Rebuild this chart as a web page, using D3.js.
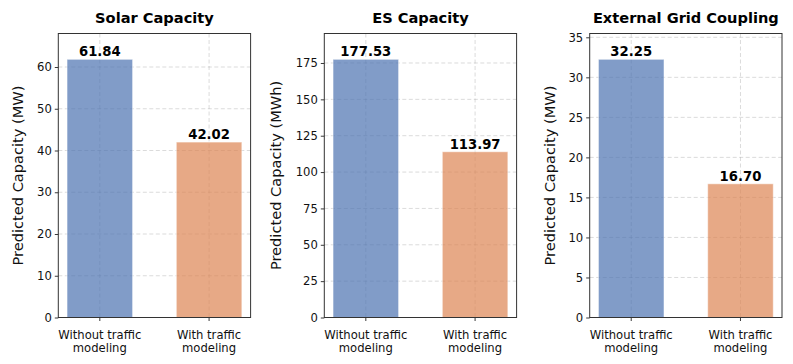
<!DOCTYPE html>
<html>
<head>
<meta charset="utf-8">
<script src="https://cdn.jsdelivr.net/npm/d3@7"></script>
<style>
  body { margin: 0; background: #fff; }
  svg { font-family: "DejaVu Sans", sans-serif; }
</style>
</head>
<body>
<div id="chart-area"></div>
<script>
// data
var categories = ["Without traffic\nmodeling", "With traffic\nmodeling"];
var panelTitles = ["Solar Capacity", "ES Capacity", "External Grid Coupling"];
var yLabels = ["Predicted Capacity (MW)", "Predicted Capacity (MWh)", "Predicted Capacity (MW)"];
var solarValues = [61.84, 42.02];
var esValues = [177.53, 113.97];
var gridValues = [32.25, 16.70];
var solarTicks = [0, 10, 20, 30, 40, 50, 60];
var esTicks = [0, 25, 50, 75, 100, 125, 150, 175];
var gridTicks = [0, 5, 10, 15, 20, 25, 30, 35];
var barColors = ["#4C72B0", "#DD8452"];

var panels = [
    {title: panelTitles[0], ylabel: yLabels[0], values: solarValues, ticks: solarTicks, left: 58.3, ylabX: 18},
    {title: panelTitles[1], ylabel: yLabels[1], values: esValues, ticks: esTicks, left: 324.3, ylabX: 276},
    {title: panelTitles[2], ylabel: yLabels[2], values: gridValues, ticks: gridTicks, left: 589.7, ylabX: 550}
];

var W = 793, H = 364;
var axTop = 33.5, axBottom = 317.5, pw = 192.3;

var svg = d3.select("#chart-area").append("svg")
    .attr("width", W)
    .attr("height", H);

panels.forEach(function(p) {
    var g = svg.append("g").attr("transform", "translate(" + p.left + ",0)");

    // bars at 0 and 1, width 0.6, 5% margins like matplotlib
    var x = d3.scaleLinear().domain([-0.38, 1.38]).range([0, pw]);
    var y = d3.scaleLinear().domain([0, d3.max(p.values) * 1.1]).range([axBottom, axTop]);

    // grid
    g.selectAll(".hgrid").data(p.ticks).enter().append("line")
        .attr("x1", 0).attr("x2", pw)
        .attr("y1", function(d) { return y(d); })
        .attr("y2", function(d) { return y(d); })
        .attr("stroke", "#b0b0b0").attr("stroke-opacity", 0.5)
        .attr("stroke-width", 0.9).attr("stroke-dasharray", "4,2.5");
    g.selectAll(".vgrid").data([0, 1]).enter().append("line")
        .attr("y1", axTop).attr("y2", axBottom)
        .attr("x1", function(d) { return x(d); })
        .attr("x2", function(d) { return x(d); })
        .attr("stroke", "#b0b0b0").attr("stroke-opacity", 0.5)
        .attr("stroke-width", 0.9).attr("stroke-dasharray", "4,2.5");

    // bars
    g.selectAll("rect.bar").data(p.values).enter().append("rect")
        .attr("class", "bar")
        .attr("x", function(d, i) { return x(i - 0.3); })
        .attr("width", x(0.3) - x(-0.3))
        .attr("y", function(d) { return y(d); })
        .attr("height", function(d) { return axBottom - y(d); })
        .attr("fill", function(d, i) { return barColors[i]; })
        .attr("fill-opacity", 0.7)
        .attr("stroke", "#fff").attr("stroke-opacity", 0.5).attr("stroke-width", 1);

    // value labels
    g.selectAll("text.val").data(p.values).enter().append("text")
        .attr("class", "val")
        .attr("x", function(d, i) { return x(i); })
        .attr("y", function(d) { return y(d) - 3; })
        .attr("text-anchor", "middle")
        .attr("font-size", "13.2px").attr("font-weight", "bold")
        .attr("fill", "#000")
        .text(function(d) { return d.toFixed(2); });

    // y axis
    var yAxis = d3.axisLeft(y).tickValues(p.ticks).tickSize(3.5).tickPadding(3).tickFormat(d3.format("d"));
    var ya = g.append("g").call(yAxis);
    ya.select(".domain").remove();
    ya.selectAll("line").attr("stroke", "#222").attr("stroke-width", 0.9);
    ya.selectAll("text").attr("font-size", "11.6px").attr("fill", "#111").attr("font-family", "DejaVu Sans");

    // x ticks
    g.selectAll(".xtick").data([0, 1]).enter().append("line")
        .attr("x1", function(d) { return x(d); })
        .attr("x2", function(d) { return x(d); })
        .attr("y1", axBottom).attr("y2", axBottom + 3.5)
        .attr("stroke", "#222").attr("stroke-width", 0.9);
    var xl = g.selectAll(".xlab").data(categories).enter().append("text")
        .attr("text-anchor", "middle")
        .attr("font-size", "11.6px").attr("fill", "#111");
    xl.each(function(d, i) {
        var t = d3.select(this);
        d.split("\n").forEach(function(line, k) {
            t.append("tspan")
                .attr("x", x(i))
                .attr("y", 338.5 + k * 13.3)
                .text(line);
        });
    });

    // frame
    g.append("rect")
        .attr("x", 0).attr("y", axTop)
        .attr("width", pw).attr("height", axBottom - axTop)
        .attr("fill", "none").attr("stroke", "#333").attr("stroke-width", 1);

    // title
    g.append("text")
        .attr("x", pw / 2).attr("y", 22.5)
        .attr("text-anchor", "middle")
        .attr("font-size", "14.6px").attr("font-weight", "bold")
        .text(p.title);

    // y label
    svg.append("text")
        .attr("transform", "translate(" + p.ylabX + "," + ((axTop + axBottom) / 2) + ") rotate(-90)")
        .attr("text-anchor", "middle")
        .attr("dy", "0.35em")
        .attr("font-size", "14.6px").attr("fill", "#111")
        .text(p.ylabel);
});
</script>
</body>
</html>
